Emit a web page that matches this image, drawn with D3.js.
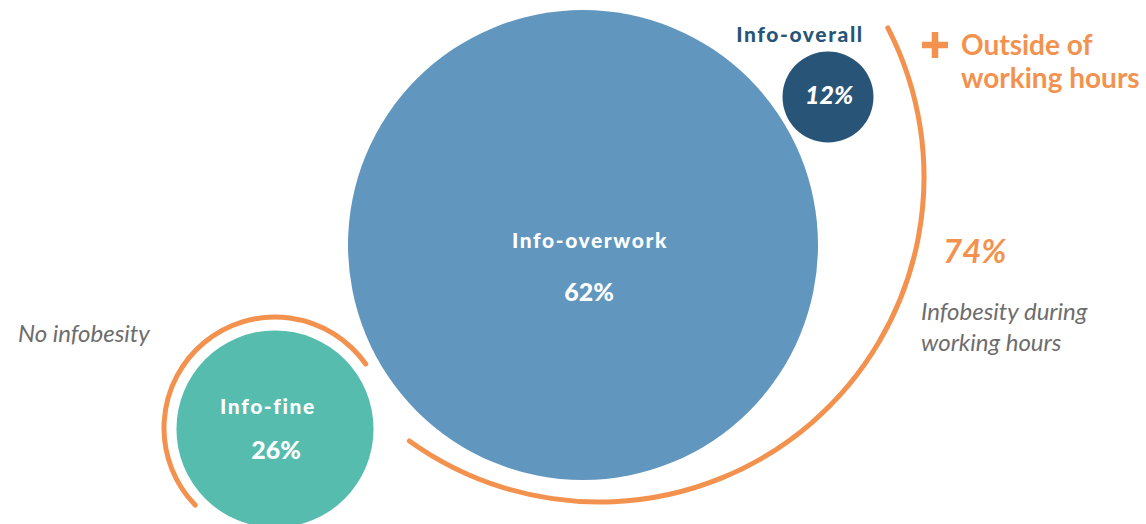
<!DOCTYPE html>
<html>
<head>
<meta charset="utf-8">
<script src="https://cdn.jsdelivr.net/npm/d3@7"></script>
<style>
  body { margin: 0; background: #fff; }
  text { font-family: Lato, "Open Sans", sans-serif; }
</style>
</head>
<body>
<div id="chart"></div>
<script>
// the three profiles, sized by share
var groups = ["Info-fine", "Info-overwork", "Info-overall"];
var shares = [26, 62, 12];
var groupColors = ["#56bcae", "#6196bf", "#285577"];

// the two brackets drawn around them
var bands = ["No infobesity", "Infobesity during working hours"];
var bandShares = [26, 74];
var extraLabel = ["Outside of", "working hours"];

var width = 1146, height = 524;
var orange = "#f3924f", grey = "#6d6d6d";

var svg = d3.select("#chart")
  .append("svg")
    .attr("width", width)
    .attr("height", height);

// radius grows with the share (not the area)
var r = d3.scaleLinear()
  .domain([0, d3.max(shares)])
  .range([0, 235]);

// where each bubble sits
var centers = [[275, 429], [583, 245], [828, 97]];

var data = groups.map(function(g, i) {
  return {name: g, value: shares[i], color: groupColors[i], cx: centers[i][0], cy: centers[i][1]};
});

svg.selectAll("circle.bubble")
  .data(data)
  .enter()
  .append("circle")
    .attr("class", "bubble")
    .attr("cx", function(d) { return d.cx; })
    .attr("cy", function(d) { return d.cy; })
    .attr("r", function(d) { return r(d.value); })
    .style("fill", function(d) { return d.color; });

// names - inside the bubble, except the small one which gets it above
svg.selectAll("text.name")
  .data(data)
  .enter()
  .append("text")
    .attr("class", "name")
    .attr("text-anchor", "middle")
    .attr("x", function(d, i) { return i == 0 ? d.cx - 7 : (i == 2 ? d.cx - 28 : d.cx + 7); })
    .attr("y", function(d, i) { return i == 2 ? d.cy - r(d.value) - 10 : (i == 1 ? d.cy + 3 : d.cy - 15); })
    .style("font-size", "21px")
    .style("font-weight", 900)
    .style("letter-spacing", "1.6px")
    .style("fill", function(d, i) { return i == 2 ? d.color : "#fff"; })
    .text(function(d) { return d.name; });

svg.selectAll("text.value")
  .data(data)
  .enter()
  .append("text")
    .attr("class", "value")
    .attr("text-anchor", "middle")
    .attr("x", function(d, i) { return i == 1 ? d.cx + 6 : d.cx + 1; })
    .attr("y", function(d, i) { return i == 2 ? d.cy + 7 : d.cy + (i == 1 ? 56 : 30); })
    .style("font-size", "25px")
    .style("font-weight", 900)
    .style("font-style", function(d, i) { return i == 2 ? "italic" : "normal"; })
    .style("fill", "#fff")
    .text(function(d) { return d.value + "%"; });

// orange brackets: [cx, cy, radius, start, end] in degrees from 3 o'clock, clockwise
var bracketGeom = [[275, 428, 111, 136, 324.8], [599, 177, 325, -27.3, 125.7]];
var rad = Math.PI / 180;

svg.selectAll("path.bracket")
  .data(bandShares)
  .enter()
  .append("path")
    .attr("class", "bracket")
    .attr("d", function(d, i) {
      var g = bracketGeom[i];
      var p = d3.path();
      p.arc(g[0], g[1], g[2], g[3] * rad, g[4] * rad, false);
      return p.toString();
    })
    .style("fill", "none")
    .style("stroke", orange)
    .style("stroke-width", 5)
    .style("stroke-linecap", "round");

// left bracket label
svg.append("text")
  .attr("x", 18)
  .attr("y", 342)
  .style("font-size", "24px")
  .style("font-style", "italic")
  .style("fill", grey)
  .text(bands[0]);

// right bracket: big share + description
svg.append("text")
  .attr("x", 943)
  .attr("y", 263)
  .style("font-size", "33px")
  .style("font-weight", 700)
  .style("font-style", "italic")
  .style("fill", orange)
  .text(bandShares[1] + "%");

svg.append("text")
  .attr("x", 921)
  .attr("y", 320)
  .style("font-size", "24px")
  .style("font-style", "italic")
  .style("fill", grey)
  .selectAll("tspan")
  .data(["Infobesity during", "working hours"])
  .enter()
  .append("tspan")
    .attr("x", 921)
    .attr("dy", function(d, i) { return i == 0 ? 0 : 31; })
    .text(function(d) { return d; });

// "+ Outside of working hours"
svg.append("path")
  .attr("d", "M922,45H948M935,32V58")
  .style("stroke", orange)
  .style("stroke-width", 6.5);

svg.append("text")
  .attr("x", 961)
  .attr("y", 55)
  .style("font-size", "28px")
  .style("font-weight", 700)
  .style("fill", orange)
  .selectAll("tspan")
  .data(extraLabel)
  .enter()
  .append("tspan")
    .attr("x", 961)
    .attr("dy", function(d, i) { return i == 0 ? 0 : 33; })
    .text(function(d) { return d; });
</script>
</body>
</html>
